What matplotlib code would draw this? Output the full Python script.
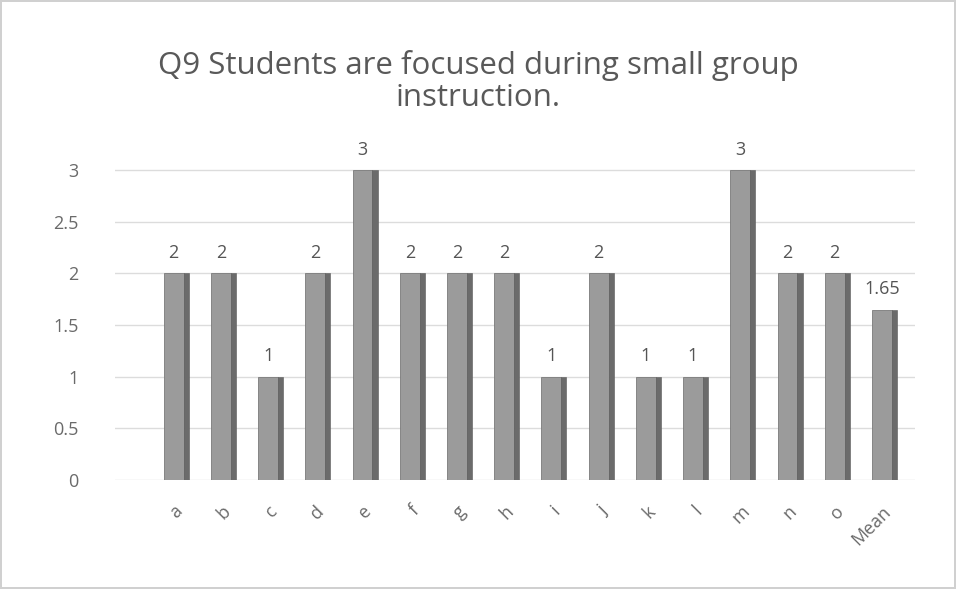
import matplotlib.pyplot as plt
import numpy as np

# ------------------------------------------------------------
# Data
# ------------------------------------------------------------
categories = ["a", "b", "c", "d", "e", "f", "g", "h", "i", "j",
              "k", "l", "m", "n", "o", "Mean"]
values = [2, 2, 1, 2, 3, 2, 2, 2, 1, 2, 1, 1, 3, 2, 2, 1.65]
value_labels = ["2", "2", "1", "2", "3", "2", "2", "2", "1", "2",
                "1", "1", "3", "2", "2", "1.65"]
y_ticks = [0, 0.5, 1, 1.5, 2, 2.5, 3]
y_tick_labels = ["0", "0.5", "1", "1.5", "2", "2.5", "3"]

title = "Q9 Students are focused during small group\ninstruction."

plt.rcParams["font.family"] = ["Open Sans", "DejaVu Sans"]

fig = plt.figure(figsize=(9.56, 5.89), dpi=100)
fig.patch.set_edgecolor("#d0d0d0")
fig.patch.set_linewidth(1.5)

ax = fig.add_axes([0.12, 0.185, 0.837, 0.535])

x = np.arange(len(categories))
front_w = 0.42
side_w = 0.11

# front face
ax.bar(x, values, width=front_w, color="#9b9b9b", edgecolor="#7a7a7a",
       linewidth=0.6, zorder=3)
# dark side face for the 3d look
ax.bar(x + front_w / 2 + side_w / 2, values, width=side_w,
       color="#6b6b6b", edgecolor="#5a5a5a", linewidth=0.4, zorder=3)

for xi, v, lab in zip(x, values, value_labels):
    ax.text(xi, v + 0.11, lab, ha="center", va="bottom",
            fontsize=13, color="#555555")

ax.set_xlim(-1.25, 15.7)
ax.set_ylim(0, 3.05)
ax.set_yticks(y_ticks)
ax.set_yticklabels(y_tick_labels, fontsize=13, color="#6a6a6a")
ax.set_xticks(x)
ax.set_xticklabels(categories, rotation=45, ha="right",
                   rotation_mode="anchor", fontsize=13, color="#6a6a6a")
ax.tick_params(axis="both", length=0)
ax.tick_params(axis="y", pad=26)
ax.tick_params(axis="x", pad=16)

ax.yaxis.grid(True, color="#dcdcdc", linewidth=1, zorder=0)
for s in ax.spines.values():
    s.set_visible(False)

fig.text(0.5, 0.862, title, ha="center", va="center", fontsize=22.5,
         color="#595959", linespacing=1.1)

fig.savefig("out.png", dpi=100, facecolor="white", edgecolor=fig.patch.get_edgecolor())
